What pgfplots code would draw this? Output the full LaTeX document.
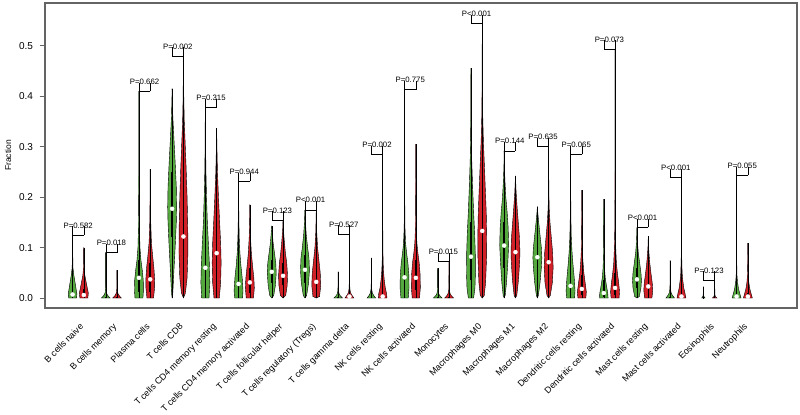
\documentclass[border=0pt]{standalone}
\usepackage{pgfplots}
\usepackage{pgfplotstable}
\pgfplotsset{compat=1.18}
\usepackage{fontspec}
\setmainfont{Liberation Sans}
\definecolor{vgreen}{RGB}{84,168,62}
\definecolor{vred}{RGB}{208,32,40}
\definecolor{frame}{RGB}{100,100,100}

% #1 position, #2 colour, #3 q1, #4 q3, #5 max, #6 right-half profile (w,y)
\newcommand{\violin}[6]{%
 \addplot[fill=#2, draw=black, line width=0.4bp, x filter/.expression={#1+x}] coordinates {#6};
 \addplot[fill=#2, draw=black, line width=0.4bp, x filter/.expression={#1-x}] coordinates {#6};
 \addplot[black, line width=0.5bp] coordinates {(#1,0) (#1,#5)};
 \addplot[black, line width=1.5bp] coordinates {(#1,#3) (#1,#4)};
}
\newcommand{\pbracket}[3]{%
 \addplot[black, line width=0.5bp] coordinates {(#1,#3) (#2,#3)};
 \draw[black, line width=0.5bp] (axis cs:#1,#3) -- ++(0,-1.5bp) (axis cs:#2,#3) -- ++(0,-1.5bp);
}

\pgfplotstableread{
pos med
0.83 0.007
1.17 0.006
2.83 0.040
3.17 0.037
3.83 0.177
4.17 0.122
4.83 0.060
5.17 0.089
5.83 0.028
6.17 0.031
6.83 0.052
7.17 0.044
7.83 0.056
8.17 0.032
9.17 0.003
10.17 0.003
10.83 0.041
11.17 0.040
12.83 0.082
13.17 0.133
13.83 0.104
14.17 0.091
14.83 0.081
15.17 0.071
15.83 0.024
16.17 0.018
16.83 0.010
17.17 0.020
17.83 0.037
18.17 0.023
19.17 0.003
20.83 0.003
21.17 0.003
}\medtab

\pgfplotstableread{
x h label
1 0.125 P=0.582
2 0.090 P=0.018
3 0.410 P=0.662
4 0.480 P=0.002
5 0.378 P=0.315
6 0.232 P=0.944
7 0.155 P=0.123
8 0.175 P<0.001
9 0.127 P=0.527
10 0.285 P=0.002
11 0.413 P=0.775
12 0.073 P=0.015
13 0.544 P<0.001
14 0.292 P=0.144
15 0.300 P=0.635
16 0.285 P=0.065
17 0.494 P=0.073
18 0.140 P<0.001
19 0.239 P<0.001
20 0.036 P=0.123
21 0.243 P=0.055
}\ptab

\begin{document}
\begin{tikzpicture}
\begin{axis}[
 name=ax,
 scale only axis, width=752bp, height=305bp,
 xmin=0, xmax=22.65, ymin=-0.0198, ymax=0.585,
 axis line style={draw=frame, line width=1.1bp},
 /pgf/number format/assume math mode=true,
 ytick={0,0.1,0.2,0.3,0.4,0.5},
 yticklabel style={font=\fontsize{10bp}{11bp}\selectfont, xshift=-3bp, /pgf/number format/fixed, /pgf/number format/fixed zerofill, /pgf/number format/precision=1},
 ytick pos=left, tick align=outside, major tick length=5.5bp,
 ytick style={draw=frame, line width=0.8bp},
 xtick={1,...,21},
 xticklabels={B cells naive, B cells memory, Plasma cells, T cells CD8, T cells CD4 memory resting, T cells CD4 memory activated, T cells follicular helper, T cells regulatory (Tregs), T cells gamma delta, NK cells resting, NK cells activated, Monocytes, Macrophages M0, Macrophages M1, Macrophages M2, Dendritic cells resting, Dendritic cells activated, Mast cells resting, Mast cells activated, Eosinophils, Neutrophils},
 xtick style={draw=none},
 xticklabel style={yshift=-9bp, xshift=1bp, rotate=45, anchor=north east, inner sep=0pt, font=\fontsize{9bp}{10bp}\selectfont},
 ylabel={Fraction},
 ylabel style={font=\fontsize{8.5bp}{10bp}\selectfont, at={(axis description cs:-0.049,0.5)}, anchor=center},
]
% 1 B cells naive
\violin{0.83}{vgreen}{0.002}{0.02}{0.125}{(0,0)(0.12,0)(0.13,0.008)(0.09,0.025)(0.04,0.045)(0.012,0.06)(0.005,0.09)(0.003,0.125)(0,0.125)}
\violin{1.17}{vred}{0.002}{0.018}{0.10}{(0,0)(0.12,0)(0.135,0.01)(0.08,0.028)(0.03,0.045)(0.01,0.06)(0.004,0.1)(0,0.1)}
% 2 B cells memory
\violin{1.83}{vgreen}{0}{0.003}{0.09}{(0,0)(0.13,0)(0.06,0.005)(0.02,0.01)(0.006,0.02)(0.003,0.09)(0,0.09)}
\violin{2.17}{vred}{0}{0.002}{0.055}{(0,0)(0.13,0)(0.06,0.005)(0.02,0.01)(0.006,0.02)(0.003,0.055)(0,0.055)}
% 3 Plasma cells
\violin{2.83}{vgreen}{0.012}{0.075}{0.41}{(0,0)(0.12,0)(0.135,0.015)(0.13,0.035)(0.10,0.055)(0.06,0.075)(0.03,0.1)(0.015,0.14)(0.008,0.2)(0.004,0.3)(0.002,0.41)(0,0.41)}
\violin{3.17}{vred}{0.012}{0.07}{0.255}{(0,0)(0.10,0)(0.13,0.02)(0.135,0.035)(0.11,0.06)(0.07,0.085)(0.035,0.11)(0.015,0.15)(0.006,0.2)(0.003,0.255)(0,0.255)}
% 4 T cells CD8
\violin{3.83}{vgreen}{0.12}{0.25}{0.415}{(0,0)(0.02,0.01)(0.05,0.05)(0.09,0.1)(0.125,0.15)(0.135,0.18)(0.125,0.22)(0.09,0.27)(0.05,0.32)(0.02,0.36)(0.006,0.4)(0,0.415)}
\violin{4.17}{vred}{0.07}{0.2}{0.48}{(0,0)(0.06,0.01)(0.11,0.04)(0.135,0.09)(0.13,0.14)(0.11,0.2)(0.08,0.26)(0.05,0.31)(0.025,0.35)(0.01,0.4)(0.004,0.45)(0,0.48)}
% 5 T cells CD4 memory resting
\violin{4.83}{vgreen}{0.02}{0.12}{0.378}{(0,0)(0.11,0)(0.135,0.03)(0.12,0.07)(0.09,0.11)(0.06,0.15)(0.035,0.2)(0.018,0.25)(0.008,0.3)(0.003,0.378)(0,0.378)}
\violin{5.17}{vred}{0.04}{0.15}{0.337}{(0,0)(0.08,0)(0.12,0.03)(0.135,0.07)(0.12,0.11)(0.09,0.15)(0.055,0.2)(0.025,0.25)(0.008,0.3)(0,0.337)}
% 6 T cells CD4 memory activated
\violin{5.83}{vgreen}{0.01}{0.06}{0.232}{(0,0)(0.12,0)(0.135,0.015)(0.11,0.04)(0.07,0.065)(0.04,0.09)(0.02,0.12)(0.008,0.16)(0.003,0.232)(0,0.232)}
\violin{6.17}{vred}{0.01}{0.06}{0.185}{(0,0)(0.11,0)(0.135,0.02)(0.12,0.04)(0.08,0.065)(0.045,0.09)(0.02,0.12)(0.006,0.15)(0,0.185)}
% 7 T cells follicular helper
\violin{6.83}{vgreen}{0.03}{0.075}{0.143}{(0,0)(0.06,0.005)(0.11,0.025)(0.135,0.05)(0.12,0.07)(0.08,0.09)(0.04,0.11)(0.015,0.13)(0,0.143)}
\violin{7.17}{vred}{0.025}{0.07}{0.155}{(0,0)(0.08,0.005)(0.125,0.025)(0.135,0.045)(0.11,0.07)(0.07,0.09)(0.035,0.115)(0.012,0.135)(0,0.155)}
% 8 Tregs
\violin{7.83}{vgreen}{0.03}{0.085}{0.175}{(0,0)(0.05,0.005)(0.11,0.03)(0.135,0.055)(0.12,0.08)(0.08,0.1)(0.04,0.125)(0.015,0.15)(0,0.175)}
\violin{8.17}{vred}{0.012}{0.06}{0.175}{(0,0)(0.10,0.003)(0.135,0.025)(0.12,0.05)(0.08,0.075)(0.04,0.1)(0.015,0.13)(0.004,0.16)(0,0.175)}
% 9 T cells gamma delta
\violin{8.83}{vgreen}{0}{0.002}{0.052}{(0,0)(0.13,0)(0.07,0.004)(0.03,0.008)(0.01,0.014)(0.004,0.025)(0.002,0.052)(0,0.052)}
\violin{9.17}{vred}{0}{0.004}{0.127}{(0,0)(0.135,0)(0.08,0.005)(0.035,0.01)(0.012,0.018)(0.004,0.035)(0.002,0.127)(0,0.127)}
% 10 NK cells resting
\violin{9.83}{vgreen}{0}{0.004}{0.079}{(0,0)(0.13,0)(0.07,0.005)(0.03,0.01)(0.01,0.018)(0.004,0.03)(0.002,0.079)(0,0.079)}
\violin{10.17}{vred}{0}{0.015}{0.285}{(0,0)(0.13,0)(0.12,0.008)(0.08,0.02)(0.05,0.035)(0.03,0.05)(0.015,0.07)(0.007,0.1)(0.003,0.15)(0.002,0.285)(0,0.285)}
% 11 NK cells activated
\violin{10.83}{vgreen}{0.015}{0.075}{0.413}{(0,0)(0.11,0)(0.135,0.02)(0.13,0.045)(0.10,0.07)(0.06,0.09)(0.03,0.11)(0.012,0.14)(0.005,0.2)(0.002,0.3)(0,0.413)}
\violin{11.17}{vred}{0.015}{0.075}{0.305}{(0,0)(0.11,0)(0.135,0.02)(0.13,0.045)(0.10,0.07)(0.06,0.09)(0.03,0.11)(0.012,0.14)(0.005,0.2)(0.002,0.25)(0,0.305)}
% 12 Monocytes
\violin{11.83}{vgreen}{0}{0.002}{0.059}{(0,0)(0.13,0)(0.07,0.004)(0.03,0.008)(0.01,0.014)(0.004,0.025)(0.002,0.059)(0,0.059)}
\violin{12.17}{vred}{0}{0.003}{0.073}{(0,0)(0.135,0)(0.075,0.004)(0.03,0.009)(0.01,0.016)(0.004,0.03)(0.002,0.073)(0,0.073)}
% 13 Macrophages M0
\violin{12.83}{vgreen}{0.035}{0.15}{0.456}{(0,0)(0.08,0)(0.12,0.02)(0.135,0.05)(0.13,0.09)(0.11,0.13)(0.08,0.17)(0.05,0.22)(0.025,0.27)(0.01,0.32)(0.004,0.38)(0,0.456)}
\violin{13.17}{vred}{0.07}{0.21}{0.544}{(0,0)(0.06,0.005)(0.10,0.03)(0.13,0.08)(0.135,0.12)(0.12,0.17)(0.09,0.22)(0.06,0.27)(0.035,0.31)(0.015,0.36)(0.006,0.42)(0.002,0.5)(0,0.544)}
% 14 Macrophages M1
\violin{13.83}{vgreen}{0.06}{0.15}{0.292}{(0,0)(0.03,0.005)(0.07,0.03)(0.11,0.07)(0.135,0.105)(0.12,0.14)(0.09,0.17)(0.05,0.2)(0.025,0.23)(0.008,0.26)(0,0.292)}
\violin{14.17}{vred}{0.05}{0.13}{0.242}{(0,0)(0.04,0.005)(0.09,0.035)(0.125,0.07)(0.135,0.09)(0.12,0.12)(0.085,0.15)(0.05,0.18)(0.02,0.21)(0,0.242)}
% 15 Macrophages M2
\violin{14.83}{vgreen}{0.05}{0.11}{0.181}{(0,0)(0.03,0.005)(0.08,0.03)(0.12,0.06)(0.135,0.08)(0.12,0.1)(0.08,0.125)(0.04,0.15)(0.012,0.17)(0,0.181)}
\violin{15.17}{vred}{0.04}{0.11}{0.30}{(0,0)(0.05,0.005)(0.11,0.03)(0.135,0.06)(0.12,0.09)(0.08,0.12)(0.04,0.15)(0.015,0.18)(0.005,0.22)(0,0.30)}
% 16 Dendritic cells resting
\violin{15.83}{vgreen}{0.008}{0.06}{0.285}{(0,0)(0.12,0)(0.135,0.015)(0.11,0.04)(0.075,0.065)(0.045,0.09)(0.022,0.12)(0.01,0.16)(0.004,0.22)(0,0.285)}
\violin{16.17}{vred}{0.006}{0.045}{0.214}{(0,0)(0.12,0)(0.135,0.012)(0.10,0.03)(0.06,0.05)(0.03,0.075)(0.012,0.1)(0.004,0.15)(0,0.214)}
% 17 Dendritic cells activated
\violin{16.83}{vgreen}{0.003}{0.035}{0.196}{(0,0)(0.13,0)(0.12,0.01)(0.08,0.025)(0.045,0.04)(0.02,0.06)(0.008,0.09)(0.003,0.13)(0,0.196)}
\violin{17.17}{vred}{0.006}{0.05}{0.494}{(0,0)(0.12,0)(0.135,0.012)(0.11,0.03)(0.07,0.05)(0.04,0.07)(0.02,0.1)(0.008,0.14)(0.003,0.2)(0.001,0.3)(0,0.494)}
% 18 Mast cells resting
\violin{17.83}{vgreen}{0.02}{0.06}{0.14}{(0,0)(0.07,0.003)(0.12,0.02)(0.135,0.035)(0.12,0.05)(0.08,0.07)(0.04,0.09)(0.015,0.11)(0,0.14)}
\violin{18.17}{vred}{0.008}{0.045}{0.122}{(0,0)(0.11,0)(0.135,0.015)(0.12,0.03)(0.08,0.05)(0.045,0.07)(0.02,0.09)(0.006,0.105)(0,0.122)}
% 19 Mast cells activated
\violin{18.83}{vgreen}{0}{0.003}{0.074}{(0,0)(0.13,0)(0.07,0.005)(0.03,0.01)(0.01,0.018)(0.004,0.03)(0.002,0.074)(0,0.074)}
\violin{19.17}{vred}{0}{0.015}{0.239}{(0,0)(0.135,0)(0.11,0.008)(0.07,0.02)(0.04,0.035)(0.02,0.05)(0.008,0.08)(0.003,0.13)(0,0.239)}
% 20 Eosinophils
\violin{19.83}{vgreen}{0}{0.001}{0.022}{(0,0)(0.05,0)(0.015,0.003)(0.004,0.008)(0.002,0.022)(0,0.022)}
\violin{20.17}{vred}{0}{0.002}{0.036}{(0,0)(0.07,0)(0.02,0.003)(0.005,0.008)(0.002,0.036)(0,0.036)}
% 21 Neutrophils
\violin{20.83}{vgreen}{0}{0.01}{0.243}{(0,0)(0.135,0)(0.10,0.008)(0.06,0.018)(0.03,0.03)(0.012,0.045)(0.005,0.07)(0.002,0.12)(0,0.243)}
\violin{21.17}{vred}{0}{0.01}{0.109}{(0,0)(0.135,0)(0.10,0.008)(0.06,0.018)(0.03,0.03)(0.012,0.045)(0.004,0.07)(0,0.109)}

% medians
\addplot[only marks, mark=*, mark size=2bp, mark options={fill=white, draw=white}] table[x=pos, y=med] {\medtab};

% brackets
\pbracket{0.83}{1.17}{0.125}
\pbracket{1.83}{2.17}{0.090}
\pbracket{2.83}{3.17}{0.410}
\pbracket{3.83}{4.17}{0.480}
\pbracket{4.83}{5.17}{0.378}
\pbracket{5.83}{6.17}{0.232}
\pbracket{6.83}{7.17}{0.155}
\pbracket{7.83}{8.17}{0.175}
\pbracket{8.83}{9.17}{0.127}
\pbracket{9.83}{10.17}{0.285}
\pbracket{10.83}{11.17}{0.413}
\pbracket{11.83}{12.17}{0.073}
\pbracket{12.83}{13.17}{0.544}
\pbracket{13.83}{14.17}{0.292}
\pbracket{14.83}{15.17}{0.300}
\pbracket{15.83}{16.17}{0.285}
\pbracket{16.83}{17.17}{0.494}
\pbracket{17.83}{18.17}{0.140}
\pbracket{18.83}{19.17}{0.239}
\pbracket{19.83}{20.17}{0.036}
\pbracket{20.83}{21.17}{0.243}

% P values
\addplot[only marks, mark=none, nodes near coords, point meta=explicit symbolic,
 every node near coord/.append style={anchor=south, inner sep=0pt, yshift=6.5bp, font=\fontsize{7.8bp}{9bp}\selectfont, text=black}]
 table[x=x, y=h, meta=label] {\ptab};
\end{axis}
\pgfresetboundingbox
\path ([xshift=-45bp,yshift=-107bp]ax.south west) rectangle ([xshift=3bp,yshift=3bp]ax.north east);
\end{tikzpicture}
\end{document}
